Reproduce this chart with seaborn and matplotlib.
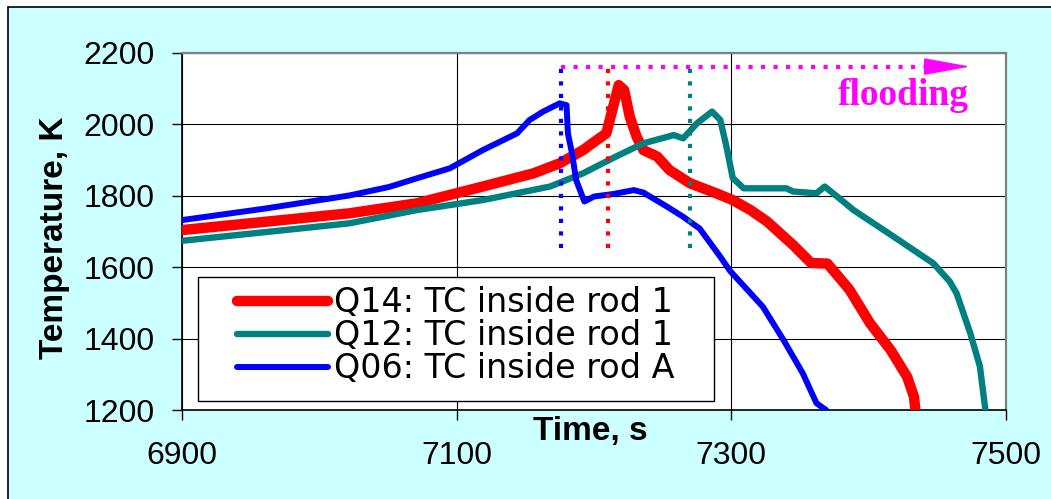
import matplotlib
matplotlib.use("Agg")
import matplotlib.pyplot as plt
import seaborn as sns
import pandas as pd
from matplotlib.patches import Rectangle

# Cladding thermocouple readings around the flooding phase
q14_time = [6900, 6960, 7022, 7071, 7119, 7156, 7175, 7192, 7202, 7209, 7214, 7218,
            7222, 7226, 7231, 7236, 7246, 7255, 7270, 7289, 7301, 7314, 7326, 7345,
            7358, 7370, 7386, 7401, 7416, 7428, 7433, 7434]
q14_temp = [1704, 1727, 1751, 1779, 1826, 1863, 1891, 1928, 1956, 1975, 2050, 2110,
            2096, 2022, 1966, 1928, 1910, 1872, 1835, 1807, 1788, 1760, 1728, 1662,
            1612, 1610, 1537, 1443, 1368, 1293, 1237, 1200]

q12_time = [6900, 6960, 7022, 7071, 7119, 7168, 7192, 7216, 7236, 7258, 7265, 7275,
            7286, 7292, 7297, 7301, 7309, 7340, 7345, 7362, 7368, 7377, 7389, 7418,
            7447, 7459, 7464, 7474, 7481, 7485]
q12_temp = [1674, 1698, 1723, 1760, 1788, 1826, 1863, 1910, 1947, 1970, 1961, 2003,
            2036, 2012, 1928, 1850, 1821, 1821, 1812, 1807, 1826, 1798, 1760, 1686,
            1611, 1560, 1527, 1415, 1322, 1200]

q06_time = [6900, 6960, 7022, 7051, 7071, 7095, 7119, 7144, 7153, 7163, 7175, 7180,
            7181, 7184, 7187, 7193, 7200, 7214, 7229, 7236, 7253, 7265, 7277, 7292,
            7299, 7323, 7338, 7352, 7362, 7369]
q06_temp = [1732, 1764, 1801, 1825, 1849, 1877, 1928, 1975, 2012, 2036, 2059, 2054,
            1975, 1919, 1844, 1784, 1798, 1805, 1816, 1809, 1770, 1741, 1708, 1629,
            1590, 1489, 1396, 1303, 1219, 1200]

series_labels = ["Q14: TC inside rod 1", "Q12: TC inside rod 1", "Q06: TC inside rod A"]
series_colors = ["#FF0000", "#008080", "#0000FF"]
series_widths = [7.5, 4.6, 4.3]

# Flooding onset for each test (same order as the series)
flood_start = [7210, 7270, 7176]
flood_marker_range = [1655, 2160]
flood_arrow_level = 2162
flood_arrow_end = 7474
flood_text = "flooding"

x_ticks = [6900, 7100, 7300, 7500]
y_ticks = [1200, 1400, 1600, 1800, 2000, 2200]

frames = []
for lab, t, v in zip(series_labels,
                     [q14_time, q12_time, q06_time],
                     [q14_temp, q12_temp, q06_temp]):
    frames.append(pd.DataFrame({"time": t, "temp": v, "series": lab}))
df = pd.concat(frames, ignore_index=True)

sns.set_theme(style="white", rc={"text.color": "black", "axes.labelcolor": "black",
                                 "xtick.color": "black", "ytick.color": "black"})
plt.rcParams["font.family"] = ["Liberation Sans", "DejaVu Sans"]

W, H = 1051, 499
fig = plt.figure(figsize=(W / 100, H / 100), dpi=100)
fig.patch.set_facecolor("white")
fig.add_artist(Rectangle((8 / W, -0.1), 1.2, 1 - 7 / H + 0.1, transform=fig.transFigure,
                         facecolor="#CCFFFF", edgecolor="black", lw=1.2, zorder=-10))

ax = fig.add_axes([182 / W, 89 / H, 824 / W, 357 / H])
ax.set_facecolor("white")

for lab, col, lw in zip(series_labels, series_colors, series_widths):
    sns.lineplot(data=df[df["series"] == lab], x="time", y="temp", color=col,
                 lw=lw, sort=False, estimator=None, ax=ax, legend=False,
                 solid_capstyle="round", solid_joinstyle="round", zorder=3)

# flooding onset markers and arrow
for x0, col in zip(flood_start, series_colors):
    ax.vlines(x0, flood_marker_range[0], flood_marker_range[1], colors=col,
              linestyles=(0, (1, 2)), lw=3, zorder=3)
ax.hlines(flood_arrow_level, min(flood_start), flood_arrow_end - 28, colors="#FF00FF",
          linestyles=(0, (1, 2)), lw=3, zorder=3)
ax.annotate("", xy=(flood_arrow_end, flood_arrow_level),
            xytext=(flood_arrow_end - 30, flood_arrow_level),
            arrowprops=dict(arrowstyle="-|>,head_length=2.5,head_width=0.45",
                            color="#FF00FF", lw=1, shrinkA=0, shrinkB=0), zorder=3)
ax.text(flood_arrow_end - 1, 2054, flood_text, color="#FF00FF", fontsize=27,
        fontweight="bold", family="Liberation Serif", ha="right", va="baseline")

ax.set_xlim(x_ticks[0], x_ticks[-1])
ax.set_ylim(y_ticks[0], y_ticks[-1])
ax.set_xticks(x_ticks)
ax.set_yticks(y_ticks)
ax.grid(True, color="black", lw=0.8)
ax.set_axisbelow(True)

ax.tick_params(axis="both", which="major", bottom=True, left=True, direction="out",
               length=7, width=1, color="black", labelsize=23)
ax.tick_params(axis="x", pad=15)
ax.tick_params(axis="y", pad=12.5)

for side in ["left", "bottom"]:
    ax.spines[side].set_color("black")
    ax.spines[side].set_linewidth(1.2)
for side in ["top", "right"]:
    ax.spines[side].set_color("#808080")
    ax.spines[side].set_linewidth(1.6)

ax.set_xlabel("Time, s", fontsize=24, fontweight="bold")
ax.xaxis.set_label_coords(0.495, -0.017)
ax.set_ylabel("Temperature, K", fontsize=24, fontweight="bold")
ax.yaxis.set_label_coords(-0.136, 0.482)

# legend box
ax.add_patch(Rectangle((0.019, 0.025), 0.6266, 0.3467, transform=ax.transAxes,
                       facecolor="white", edgecolor="black", lw=1, zorder=4))
leg = ax.legend(ax.lines[:3], series_labels, loc="upper left",
                bbox_to_anchor=(0.0664, 0.346), frameon=False, borderpad=0,
                borderaxespad=0, handlelength=2.75, handletextpad=0.18,
                labelspacing=0.0, prop={"family": "DejaVu Sans", "size": 24})
leg.set_zorder(5)

fig.savefig("out.png", dpi=100)
